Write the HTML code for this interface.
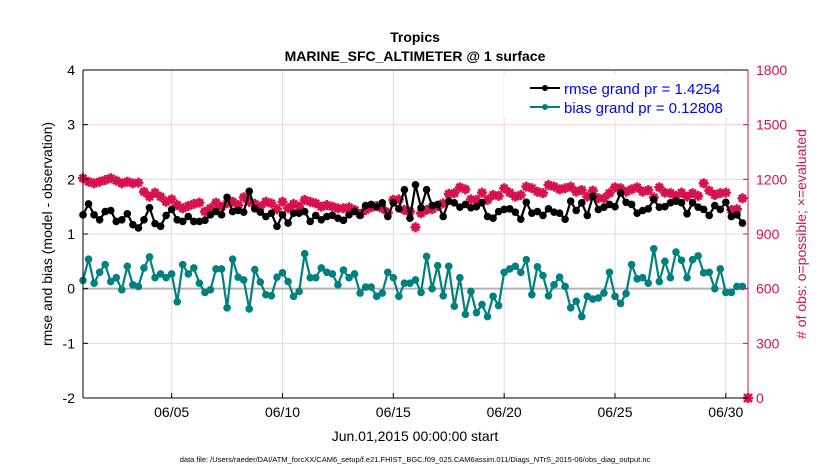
<!DOCTYPE html>
<html><head><meta charset="utf-8"><style>
body{margin:0;background:#fff;width:830px;height:470px;overflow:hidden}
svg{font-family:"Liberation Sans",Arial,sans-serif}
</style></head><body>
<svg id="chart" width="830" height="470" xmlns="http://www.w3.org/2000/svg">
<text x="415" y="42" text-anchor="middle" font-size="14" font-weight="bold">Tropics</text>
<text x="415" y="61" text-anchor="middle" font-size="14" font-weight="bold">MARINE_SFC_ALTIMETER @ 1 surface</text>
<g id="grid"></g>
<g id="marks"></g>
<g id="axes"></g>
<g id="legend">
<rect x="504" y="74" width="238" height="44" fill="#fff"/>
<g>
<line x1="530" y1="88" x2="560" y2="88" stroke="#000" stroke-width="2"/><circle cx="545" cy="88" r="3" fill="#000"/>
<text x="564" y="94" font-size="15" fill="#0000ff">rmse grand pr = 1.4254</text></g>
<g>
<line x1="530" y1="107" x2="560" y2="107" stroke="#008080" stroke-width="2"/><circle cx="545" cy="107" r="3" fill="#008080"/>
<text x="564" y="113" font-size="15" fill="#0000ff">bias grand pr = 0.12808</text></g>
</g>
<text transform="translate(52,234) rotate(-90)" text-anchor="middle" font-size="14">rmse and bias (model - observation)</text>
<text transform="translate(806,234) rotate(-90)" text-anchor="middle" font-size="14" fill="#d6114e"># of obs: o=possible; ×=evaluated</text>
<text x="415" y="441" text-anchor="middle" font-size="14">Jun.01,2015 00:00:00 start</text>
<text x="415" y="462" text-anchor="middle" font-size="7.5">data file: /Users/raeder/DAI/ATM_forcXX/CAM6_setup/f.e21.FHIST_BGC.f09_025.CAM6assim.011/Diags_NTrS_2015-06/obs_diag_output.nc</text>
</svg>
<script>
const rmse=[1.35,1.55,1.35,1.26,1.41,1.43,1.23,1.26,1.37,1.17,1.11,1.26,1.48,1.19,1.14,1.34,1.45,1.26,1.23,1.32,1.23,1.23,1.25,1.35,1.41,1.35,1.67,1.41,1.43,1.40,1.78,1.46,1.40,1.32,1.38,1.14,1.35,1.20,1.38,1.38,1.41,
1.23,1.34,1.26,1.32,1.34,1.29,1.25,1.35,1.41,1.34,1.52,1.54,1.50,1.57,1.32,1.57,1.46,1.81,1.29,1.90,1.48,1.81,1.52,1.54,1.32,1.60,1.57,1.49,1.54,1.48,1.50,1.57,1.32,1.29,1.41,1.45,1.46,1.40,1.27,1.58,
1.38,1.41,1.34,1.46,1.40,1.38,1.27,1.60,1.43,1.57,1.34,1.69,1.45,1.49,1.54,1.50,1.75,1.58,1.54,1.38,1.43,1.46,1.63,1.49,1.50,1.57,1.60,1.57,1.37,1.57,1.49,1.45,1.34,1.52,1.45,1.58,1.32,1.35,1.20];
const bias=[0.15,0.54,0.10,0.30,0.44,0.13,0.20,-0.02,0.41,0.07,0.04,0.38,0.58,0.20,0.27,0.20,0.27,-0.24,0.44,0.27,0.38,0.10,-0.07,-0.02,0.36,0.36,-0.35,0.54,0.21,0.16,-0.37,0.35,0.12,-0.11,-0.13,0.21,0.29,0.13,-0.14,-0.05,0.64,
0.20,0.20,0.38,0.30,0.27,0.07,0.34,0.20,0.27,-0.08,0.03,0.03,-0.14,-0.08,0.30,0.20,-0.14,0.10,0.10,0.16,-0.07,0.59,0.00,0.42,-0.13,0.41,-0.32,0.20,-0.47,-0.05,-0.44,-0.29,-0.51,-0.14,-0.31,0.30,0.36,0.41,0.30,0.53,
-0.11,0.40,0.24,-0.13,0.07,0.21,0.04,-0.35,-0.23,-0.51,-0.14,-0.19,-0.17,-0.08,0.30,-0.14,-0.27,-0.09,0.44,0.18,0.20,0.10,0.73,0.13,0.50,0.20,0.67,0.52,0.20,0.53,0.60,0.29,0.30,0.00,0.36,-0.07,-0.07,0.04,0.04];
const nobs=[1206,1187,1178,1187,1196,1206,1193,1178,1187,1178,1182,1132,1105,1127,1105,1077,1090,1059,1041,1054,1065,1072,1023,1041,1072,1050,1068,1077,1059,1101,1077,1065,1050,1077,1068,1036,1077,1041,1065,1050,1087,
1077,1068,1050,1059,1050,1041,1041,1046,1032,1010,1032,1046,1054,1041,1017,1087,1090,1032,1023,937,1014,1032,1036,1054,1068,1120,1124,1156,1145,1090,1087,1127,1087,1114,1109,1151,1127,1105,1114,1160,
1151,1132,1124,1169,1160,1145,1151,1160,1132,1141,1105,1138,1096,1096,1124,1156,1151,1132,1145,1156,1132,1141,1101,1156,1127,1124,1109,1127,1105,1124,1109,1178,1138,1114,1124,1127,1032,1036,1096];
const xTickDays=[4,9,14,19,24,29];
const xTickLabels=["06/05","06/10","06/15","06/20","06/25","06/30"];
const yLeftTicks=[-2,-1,0,1,2,3,4];
const yRightTicks=[0,300,600,900,1200,1500,1800];

const L=83,R=748,T=70,B=398;
const xs=d=>L+(R-L)*d/30;
const yl=v=>B-(B-T)*(v+2)/6;
const yr=v=>B-(B-T)*v/1800;
const NS="http://www.w3.org/2000/svg";
function mk(parent,tag,attrs){const e=document.createElementNS(NS,tag);for(const k in attrs)e.setAttribute(k,attrs[k]);parent.appendChild(e);return e;}
const grid=document.getElementById('grid'),marks=document.getElementById('marks'),axes=document.getElementById('axes');

xTickDays.forEach((d,i)=>{
  const g=mk(grid,'line',{x1:xs(d),x2:xs(d),y1:T,y2:B,stroke:'#dcdcdc','stroke-width':1});
  
  
  const t=mk(axes,'text',{x:xs(d),y:B+19,'text-anchor':'middle','font-size':14});
  t.textContent=xTickLabels[i];
  
  
  mk(axes,'line',{x1:xs(d),x2:xs(d),y1:B,y2:B-5,stroke:'#000'});
});
yRightTicks.forEach(v=>{
  const g=mk(grid,'line',{x1:L,x2:R,y1:yr(v),y2:yr(v),stroke:'#f4d0dc','stroke-width':1});
  
  
  const t=mk(axes,'text',{x:R+8,y:yr(v)+5,'font-size':14,fill:'#d6114e'});
  t.textContent=v;
  
  
  mk(axes,'line',{x1:R,x2:R-5,y1:yr(v),y2:yr(v),stroke:'#d6114e'});
});
yLeftTicks.forEach(v=>{
  const t=mk(axes,'text',{x:L-8,y:yl(v)+5,'font-size':14,'text-anchor':'end'});
  t.textContent=v;
  
  
  mk(axes,'line',{x1:L,x2:L+5,y1:yl(v),y2:yl(v),stroke:'#000'});
});
const zl=mk(grid,'line',{x1:L,x2:R,y1:yl(0),y2:yl(0),stroke:'#b4b4b4','stroke-width':2});



nobs.forEach((v,i)=>{
  const x=xs(i*0.25),y=yr(v);
  const p=mk(marks,'path',{d:`M${x-5},${y}H${x+5}M${x},${y-5}V${y+5}M${x-3.5},${y-3.5}L${x+3.5},${y+3.5}M${x-3.5},${y+3.5}L${x+3.5},${y-3.5}`,stroke:'#d6114e','stroke-width':2.6});
  
  
});
const z=mk(marks,'path',{d:`M${R-5},${B}H${R+5}M${R},${B-5}V${B+5}M${R-4},${B-4}L${R+4},${B+4}M${R-4},${B+4}L${R+4},${B-4}`,stroke:'#d6114e','stroke-width':2.6});



function series(arr,color,name){
  const pts=arr.map((v,i)=>xs(i*0.25)+','+yl(v)).join(' ');
  const pl=mk(marks,'polyline',{points:pts,fill:'none',stroke:color,'stroke-width':2.2});
  
  
  arr.forEach((v,i)=>{
    const c=mk(marks,'circle',{cx:xs(i*0.25),cy:yl(v),r:3.8,fill:color});
    
    
  });
}
series(rmse,'#000','rmse');
series(bias,'#008080','bias');

const la=mk(axes,'line',{x1:L,x2:L,y1:T,y2:B,stroke:'#000'});


const ra=mk(axes,'line',{x1:R,x2:R,y1:T,y2:B,stroke:'#d6114e'});


const ta=mk(axes,'line',{x1:L,x2:R,y1:T,y2:T,stroke:'#000'});


const ba=mk(axes,'line',{x1:L,x2:R,y1:B,y2:B,stroke:'#000'});


</script>
</body></html>
